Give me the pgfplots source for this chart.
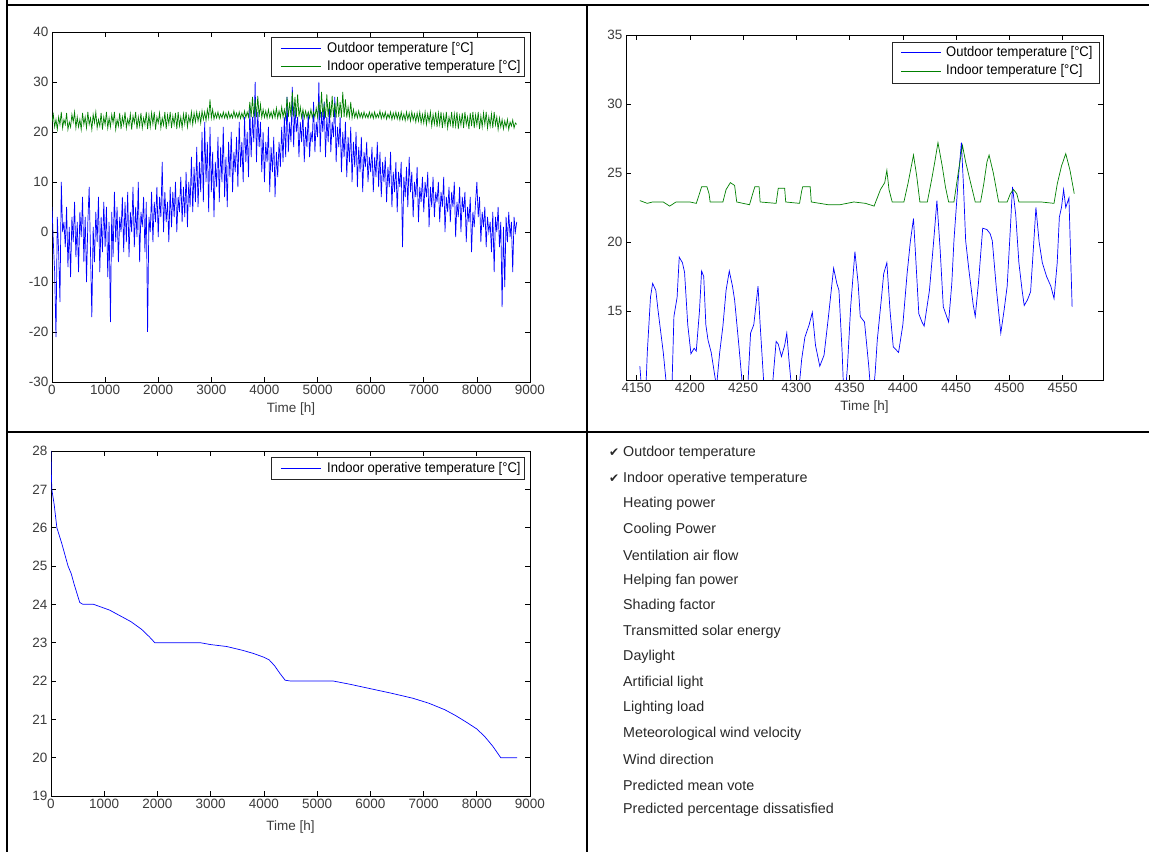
\documentclass[border=0pt]{standalone}
\usepackage{pgfplots}
\pgfplotsset{compat=1.18}
\usepackage{fontspec}
\setmainfont{Liberation Sans}
\newfontfamily\legfont[FakeStretch=0.93]{Liberation Sans}
\newfontfamily\symfont{DejaVu Sans}
\definecolor{mblue}{RGB}{0,0,255}
\definecolor{mgreen}{RGB}{0,128,0}
\definecolor{tlab}{RGB}{60,60,60}
\definecolor{listc}{RGB}{40,40,40}

\pgfplotsset{
 mstyle/.style={
  scale only axis,
  anchor=south west,
  axis line style={black, line width=0.8pt},
  every tick/.style={black, line width=0.6pt},
  major tick length=5pt,
  tick align=inside,
  scaled ticks=false,
  tick label style={font=\fontsize{13.5}{15}\selectfont, text=tlab},
  xlabel style={font=\fontsize{13.5}{15}\selectfont, text=tlab, yshift=-1pt},
  legend style={font=\legfont\fontsize{14}{16}\selectfont, draw=black!85, line width=0.8pt,
    inner xsep=2pt, inner ysep=3pt, row sep=2pt},
  legend cell align=left,
  legend image code/.code={\draw[#1, line width=0.7pt] (0pt,0pt) -- (40pt,0pt); \path (-7pt,0pt) (44pt,0pt);},
  xlabel={Time [h]},
 }
}

\begin{document}
\begin{tikzpicture}[x=1pt,y=1pt]
\useasboundingbox (0,0) rectangle (1149,852);
\fill[white] (0,0) rectangle (1149,852);

% frame
\draw[line width=2.5pt] (7,852) -- (7,847) -- (1149,847);
\draw[line width=2pt] (587,847) -- (587,0);
\draw[line width=2.5pt] (7,420) -- (1149,420);
\draw[line width=2.5pt] (7,847) -- (7,0);

% ---------------- top-left
\begin{axis}[mstyle, at={(52pt,470pt)}, width=478pt, height=350pt,
  xmin=0, xmax=9000, ymin=-30, ymax=40,
  xtick={0,1000,...,9000},
  xticklabels={0,1000,2000,3000,4000,5000,6000,7000,8000,9000},
  ytick={-30,-20,...,40},
  yticklabels={-30,-20,-10,0,10,20,30,40},
  legend style={at={(1,1)}, anchor=north east, xshift=-5pt, yshift=-5pt},
]
\addplot[mblue, line width=0.7pt] table[row sep=\\, x expr=\coordindex*25, y=v] {
v\\
5\\ -2\\ -8\\ -21\\ 3\\ -4\\ -14\\ 10\\ 0\\ 2\\
-3\\ 5\\ -7\\ 1\\ -9\\ 3\\ -2\\ 6\\ -5\\ 2\\
-8\\ 4\\ -1\\ 7\\ -6\\ 3\\ -10\\ 2\\ 9\\ -4\\
-17\\ 1\\ -6\\ 4\\ -2\\ 7\\ -8\\ 3\\ -4\\ 6\\
-3\\ 5\\ -9\\ 2\\ -18\\ 4\\ -5\\ 8\\ -2\\ 5\\
-6\\ 3\\ 0\\ 7\\ -4\\ 6\\ -2\\ 8\\ -5\\ 4\\
0\\ 9\\ -3\\ 5\\ -1\\ 10\\ -6\\ 4\\ 1\\ 7\\
-4\\ 6\\ -20\\ 3\\ 0\\ 8\\ -2\\ 6\\ 2\\ 9\\
-1\\ 7\\ 3\\ 14\\ 0\\ 8\\ 2\\ 6\\ -2\\ 9\\
1\\ 8\\ 3\\ 10\\ 0\\ 7\\ 4\\ 11\\ 2\\ 9\\
3\\ 12\\ 1\\ 10\\ 5\\ 15\\ 4\\ 13\\ 6\\ 17\\
5\\ 14\\ 8\\ 20\\ 6\\ 22\\ 10\\ 18\\ 4\\ 21\\
8\\ 16\\ 3\\ 14\\ 9\\ 19\\ 6\\ 17\\ 10\\ 21\\
7\\ 15\\ 5\\ 18\\ 11\\ 20\\ 8\\ 16\\ 12\\ 19\\
9\\ 22\\ 13\\ 18\\ 10\\ 23\\ 14\\ 20\\ 11\\ 25\\
15\\ 23\\ 18\\ 30\\ 14\\ 24\\ 17\\ 22\\ 12\\ 20\\
10\\ 18\\ 14\\ 21\\ 8\\ 17\\ 12\\ 19\\ 7\\ 16\\
11\\ 18\\ 13\\ 21\\ 14\\ 23\\ 15\\ 27\\ 16\\ 22\\
18\\ 29\\ 17\\ 25\\ 20\\ 23\\ 15\\ 22\\ 18\\ 24\\
14\\ 21\\ 17\\ 24\\ 15\\ 20\\ 18\\ 26\\ 16\\ 22\\
19\\ 30\\ 16\\ 24\\ 20\\ 26\\ 15\\ 23\\ 18\\ 25\\
16\\ 22\\ 19\\ 27\\ 14\\ 21\\ 17\\ 23\\ 12\\ 20\\
15\\ 22\\ 11\\ 19\\ 14\\ 21\\ 10\\ 18\\ 13\\ 20\\
9\\ 17\\ 12\\ 19\\ 8\\ 16\\ 13\\ 18\\ 10\\ 15\\
12\\ 17\\ 8\\ 15\\ 11\\ 18\\ 9\\ 16\\ 7\\ 14\\
10\\ 15\\ 6\\ 13\\ 9\\ 16\\ 5\\ 12\\ 8\\ 14\\
4\\ 12\\ 9\\ 14\\ -3\\ 11\\ 7\\ 13\\ 5\\ 15\\
8\\ 12\\ 3\\ 10\\ 7\\ 13\\ 2\\ 9\\ 6\\ 11\\
4\\ 10\\ 7\\ 12\\ 1\\ 9\\ 5\\ 11\\ 3\\ 8\\
6\\ 10\\ 2\\ 8\\ 5\\ 11\\ 0\\ 7\\ 4\\ 9\\
2\\ 8\\ 5\\ 10\\ -1\\ 6\\ 3\\ 9\\ 0\\ 7\\
4\\ 8\\ -2\\ 5\\ 2\\ 7\\ -4\\ 4\\ 1\\ 6\\
10\\ 3\\ 7\\ -2\\ 4\\ 1\\ 5\\ -3\\ 3\\ 0\\
2\\ -4\\ 4\\ -8\\ 3\\ 0\\ 5\\ -3\\ 2\\ -15\\
1\\ -11\\ 3\\ -2\\ 4\\ -1\\ 2\\ -8\\ 3\\ 0\\
2\\
};
\addlegendentry{Outdoor temperature [°C]}
\addplot[mgreen, line width=0.7pt] table[row sep=\\, x expr=\coordindex*25, y=v] {
v\\
22\\ 23.5\\ 21\\ 22.5\\ 20.5\\ 23\\ 21.5\\ 24\\ 20.8\\ 22.5\\
21.5\\ 23.8\\ 20.5\\ 22\\ 21\\ 23.5\\ 22\\ 24\\ 20.8\\ 23\\
21\\ 22.5\\ 20.5\\ 23.8\\ 21.5\\ 23\\ 20.8\\ 24\\ 21.5\\ 22.8\\
20.5\\ 23.5\\ 21.8\\ 24\\ 20.8\\ 22.5\\ 21.2\\ 23.8\\ 20.5\\ 23\\
21.5\\ 24\\ 20.8\\ 22.8\\ 21\\ 23.5\\ 21.8\\ 24\\ 20.5\\ 22.5\\
21.2\\ 23.8\\ 20.6\\ 23\\ 21.5\\ 24\\ 20.8\\ 22.6\\ 21.4\\ 23.6\\
20.5\\ 23.2\\ 21.8\\ 24\\ 20.6\\ 23\\ 21.2\\ 23.8\\ 20.8\\ 22.8\\
21.5\\ 24\\ 20.6\\ 23.4\\ 21\\ 23.8\\ 21.6\\ 24\\ 20.5\\ 23\\
21.8\\ 23.8\\ 20.8\\ 22.8\\ 21.4\\ 24\\ 20.6\\ 23.4\\ 21.6\\ 24\\
20.8\\ 23.2\\ 21.5\\ 23.8\\ 20.6\\ 24\\ 21.2\\ 23\\ 20.8\\ 23.6\\
21.6\\ 24\\ 21\\ 23.2\\ 21.8\\ 24\\ 21.5\\ 23.8\\ 22\\ 24\\
22.2\\ 23.8\\ 21.8\\ 24.2\\ 22.5\\ 24\\ 22.3\\ 24.5\\ 22.8\\ 26.5\\
22.8\\ 24.5\\ 22.6\\ 23.8\\ 22.8\\ 24\\ 22.7\\ 23.6\\ 22.8\\ 24\\
22.8\\ 23.8\\ 22.7\\ 24\\ 22.8\\ 23.6\\ 22.8\\ 24.2\\ 22.9\\ 23.8\\
22.8\\ 24\\ 22.7\\ 23.8\\ 22.8\\ 24.2\\ 22.9\\ 24\\ 23\\ 26\\
23\\ 27\\ 22.9\\ 26.5\\ 23\\ 27.2\\ 23\\ 25.5\\ 22.9\\ 24.5\\
22.9\\ 24.2\\ 22.8\\ 24.5\\ 22.9\\ 24\\ 22.8\\ 24.3\\ 22.9\\ 24.8\\
22.8\\ 24.2\\ 22.9\\ 25\\ 23\\ 24.5\\ 22.8\\ 27\\ 23\\ 26\\
23\\ 28\\ 23.1\\ 27\\ 22.9\\ 27.5\\ 23\\ 25\\ 22.9\\ 24.5\\
22.8\\ 24.2\\ 22.9\\ 24\\ 22.8\\ 24.5\\ 22.9\\ 24\\ 23\\ 24.8\\
23\\ 26\\ 22.9\\ 28\\ 23\\ 25.5\\ 22.9\\ 27.5\\ 23\\ 26\\
22.9\\ 27.2\\ 23\\ 25.8\\ 22.9\\ 27\\ 23\\ 26\\ 22.9\\ 28\\
23\\ 26.5\\ 22.9\\ 25\\ 23\\ 26\\ 22.8\\ 24.5\\ 22.9\\ 24\\
22.8\\ 24.2\\ 22.9\\ 23.8\\ 22.8\\ 24\\ 22.9\\ 23.6\\ 22.8\\ 24\\
22.9\\ 23.8\\ 22.7\\ 24\\ 22.8\\ 23.6\\ 22.9\\ 24.2\\ 22.7\\ 23.8\\
22.8\\ 24\\ 22.6\\ 23.6\\ 22.8\\ 24\\ 22.5\\ 23.8\\ 22.7\\ 24\\
22.6\\ 23.8\\ 22.4\\ 24\\ 22.5\\ 23.6\\ 22.3\\ 24\\ 22.5\\ 23.8\\
22.2\\ 24\\ 22.4\\ 23.6\\ 22\\ 23.8\\ 22.2\\ 24\\ 21.8\\ 23.5\\
21.8\\ 24\\ 21.5\\ 23.6\\ 22\\ 24\\ 21.2\\ 23.5\\ 21.6\\ 24\\
21\\ 23.8\\ 21.5\\ 24\\ 20.8\\ 23.4\\ 21.4\\ 24\\ 20.8\\ 23\\
21.5\\ 24\\ 20.8\\ 23.6\\ 21.2\\ 24\\ 20.6\\ 23.2\\ 21.4\\ 23.8\\
20.8\\ 24\\ 21.5\\ 23\\ 20.6\\ 23.8\\ 21.2\\ 24\\ 20.8\\ 23.4\\
21.4\\ 24\\ 20.6\\ 23.2\\ 21\\ 23.8\\ 21.5\\ 24\\ 20.8\\ 23\\
21.2\\ 23.6\\ 20.8\\ 24\\ 21.4\\ 23\\ 20.5\\ 22.8\\ 21\\ 22.5\\
20.6\\ 22.2\\ 21\\ 22.5\\ 20.5\\ 22\\ 21.2\\ 22.4\\ 20.8\\ 21.8\\
21.5\\
};
\addlegendentry{Indoor operative temperature [°C]}
\end{axis}

% ---------------- top-right
\begin{axis}[mstyle, at={(626pt,472pt)}, width=477pt, height=345pt,
  xmin=4140, xmax=4588, ymin=10, ymax=35,
  xtick={4150,4200,...,4550},
  xticklabels={4150,4200,4250,4300,4350,4400,4450,4500,4550},
  ytick={15,20,25,30,35},
  yticklabels={15,20,25,30,35},
]
\addplot[mblue, line width=0.7pt] coordinates {
(4153,11.0)(4156,8)(4158,8)(4160,12)(4163,16)(4165,17.0)(4168,16.5)(4170,15.1)(4175,12)(4180,8)
(4183,9)(4185,14.6)(4188,16)(4190,18.9)(4193,18.5)(4195,17.8)(4198,14)(4201,11.9)(4204,12.3)(4206,12.1)
(4209,15)(4211,17.9)(4213,17.5)(4215,14)(4217,12.9)(4220,12)(4225,9.5)(4228,12)(4231,13.9)(4234,16.5)
(4237,17.9)(4240,16.8)(4242,15.8)(4246,12.5)(4250,9)(4254,9)(4257,13.4)(4260,14)(4264,16.8)(4266,14)
(4270,9)(4274,8)(4278,10)(4281,12.8)(4283,12.6)(4286,11.7)(4289,12.5)(4291,13.4)(4293,11.5)(4296,9)
(4302,9)(4305,11.5)(4308,13.1)(4312,14)(4315,14.9)(4318,12.5)(4322,11.0)(4326,11.8)(4330,14.5)(4335,18.1)
(4338,17)(4340,16.5)(4343,12)(4345,8)(4348,11)(4351,15.3)(4355,19.3)(4358,17)(4360,14.6)(4364,14.2)
(4368,11)(4371,8)(4374,10.5)(4376,12.9)(4380,16)(4382,17.7)(4385,18.5)(4388,15)(4391,12.4)(4396,12.0)
(4400,14)(4404,17.7)(4407,20)(4410,21.7)(4412,19)(4415,14.8)(4418,14.2)(4420,13.9)(4425,16.5)(4429,20.1)
(4432,23.0)(4435,19.5)(4438,15.3)(4443,14.2)(4446,17)(4448,20.1)(4452,24.5)(4455,27.2)(4457,24)(4459,20.1)
(4462,18)(4466,15.5)(4468,14.6)(4471,17)(4475,21.0)(4479,20.9)(4482,20.6)(4484,20.1)(4488,16.5)(4492,13.4)
(4495,15)(4498,16.8)(4501,21)(4503,24.0)(4506,22)(4509,18.5)(4512,16.5)(4514,15.4)(4517,15.8)(4520,16.4)
(4523,20)(4525,22.5)(4528,20)(4531,18.5)(4535,17.5)(4539,16.8)(4542,15.9)(4545,18.5)(4547,21.8)(4549,22.5)
(4551,23.8)(4553,22.5)(4556,23.2)(4559,15.3)
};
\addplot[mgreen, line width=0.7pt] coordinates {
(4153,23.0)(4160,22.8)(4165,22.9)(4175,22.9)(4181,22.6)(4187,22.9)(4200,22.9)(4206,22.8)(4209,23.5)(4211,24.0)
(4216,24.0)(4218,23.5)(4219,22.9)(4231,22.9)(4234,23.8)(4238,24.3)(4242,24.1)(4244,22.9)(4256,22.7)(4259,23.5)
(4261,24.0)(4265,24.0)(4266,22.9)(4281,22.8)(4283,23.9)(4289,23.9)(4290,22.9)(4303,22.8)(4305,23.7)(4306,24.0)
(4313,24.0)(4314,22.9)(4322,22.8)(4330,22.7)(4341,22.7)(4354,22.9)(4365,22.8)(4373,22.6)(4376,23.2)(4379,23.8)
(4383,24.3)(4385,25.2)(4387,23.8)(4390,22.9)(4401,22.9)(4405,24.3)(4408,25.5)(4410,26.3)(4413,24.8)(4416,22.9)
(4423,22.9)(4427,24.5)(4430,25.8)(4433,27.2)(4437,25.5)(4440,24)(4443,22.9)(4448,22.9)(4452,25)(4456,27.0)
(4459,25.8)(4463,24.5)(4468,22.9)(4473,22.9)(4476,24.2)(4479,25.8)(4481,26.3)(4485,25)(4490,22.9)(4498,22.9)
(4501,23.5)(4504,23.8)(4507,23.5)(4509,22.9)(4525,22.9)(4530,22.9)(4542,22.8)(4545,24.2)(4549,25.5)(4553,26.4)
(4557,25.2)(4561,23.5)
};
\end{axis}
% legend of the top-right panel
\draw[draw=black!85, line width=0.8pt, fill=white] (892.5,810) rectangle (1099,769);
\draw[draw=mblue, line width=0.9pt] (901,799.5) -- (941,799.5);
\draw[draw=mgreen, line width=0.9pt] (901,781) -- (941,781);
\node[anchor=west, inner sep=0pt, font=\legfont\fontsize{14}{16}\selectfont] at (946,799.5) {Outdoor temperature [°C]};
\node[anchor=west, inner sep=0pt, font=\legfont\fontsize{14}{16}\selectfont] at (946,781) {Indoor temperature [°C]};

% ---------------- bottom-left
\begin{axis}[mstyle, at={(51pt,56pt)}, width=479pt, height=345pt,
  xmin=0, xmax=9000, ymin=19, ymax=28,
  xtick={0,1000,...,9000},
  xticklabels={0,1000,2000,3000,4000,5000,6000,7000,8000,9000},
  ytick={19,20,...,28},
  yticklabels={19,20,21,22,23,24,25,26,27,28},
  xlabel style={yshift=-4pt},
  legend style={at={(1,1)}, anchor=north east, xshift=-5pt, yshift=-6pt},
]
\addplot[mblue, line width=0.7pt] coordinates {
(0,28)(5,27.5)(15,27)(60,26.6)(110,26)(200,25.6)(320,25)(380,24.8)(440,24.5)(540,24.05)
(600,24)(800,24)(900,23.95)(1100,23.85)(1300,23.7)(1500,23.55)(1700,23.35)(1850,23.15)(1950,23.0)(2200,23)
(2800,23)(3000,22.95)(3300,22.9)(3600,22.8)(3800,22.72)(4000,22.62)(4100,22.55)(4200,22.4)(4300,22.2)(4400,22.02)
(4500,22)(5000,22)(5300,22)(5600,21.92)(6000,21.8)(6400,21.68)(6800,21.55)(7100,21.42)(7400,21.25)(7600,21.1)
(7800,20.93)(8000,20.75)(8150,20.55)(8300,20.3)(8450,20.0)(8600,20)(8760,20)
};
\addlegendentry{Indoor operative temperature [°C]}
\end{axis}

% ---------------- bottom-right list
\begin{scope}[every node/.style={anchor=west, inner sep=0pt, text=listc, font=\fontsize{14.3}{16}\selectfont}]
\node at (623,399) {Outdoor temperature};
\node at (623,373) {Indoor operative temperature};
\node at (623,348) {Heating power};
\node at (623,322) {Cooling Power};
\node at (623,297) {Ventilation air flow};
\node at (623,271) {Helping fan power};
\node at (623,246) {Shading factor};
\node at (623,220) {Transmitted solar energy};
\node at (623,195) {Daylight};
\node at (623,169) {Artificial light};
\node at (623,144) {Lighting load};
\node at (623,118) {Meteorological wind velocity};
\node at (623,93) {Wind direction};
\node at (623,67) {Predicted mean vote};
\node at (623,42) {Predicted percentage dissatisfied};
\node[font=\symfont\fontsize{12}{14}\selectfont] at (609,399) {✔};
\node[font=\symfont\fontsize{12}{14}\selectfont] at (609,373) {✔};
\end{scope}
\end{tikzpicture}
\end{document}
